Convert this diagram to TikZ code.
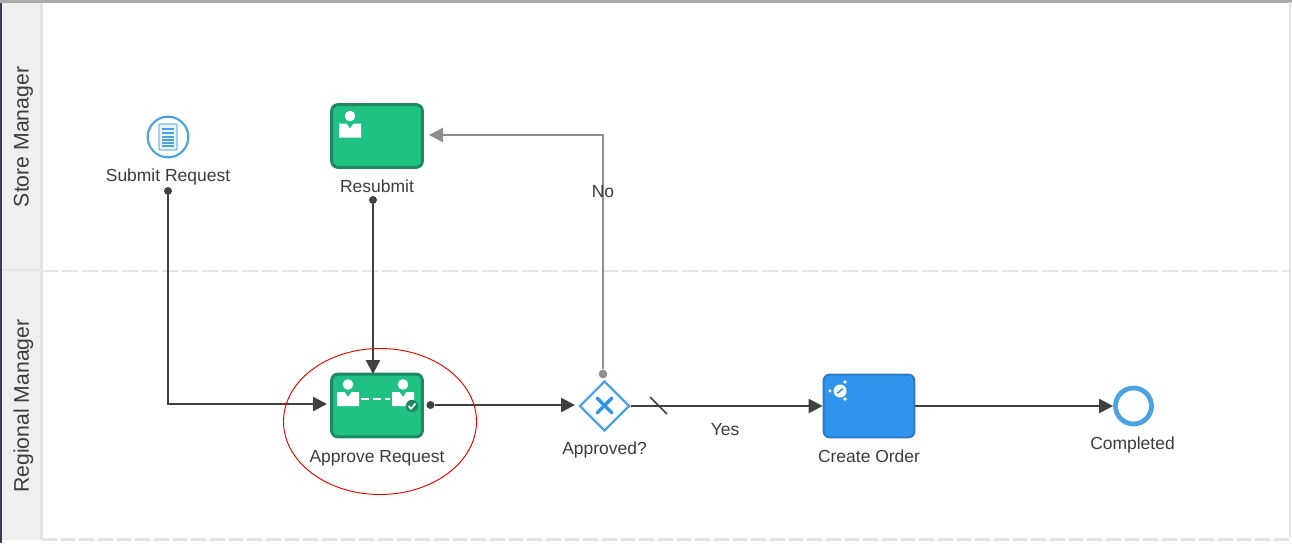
\documentclass[tikz,border=0pt]{standalone}
\usepackage{fontspec}
\setmainfont{Liberation Sans}
\usetikzlibrary{arrows.meta,shapes.geometric}
\definecolor{taskgreen}{HTML}{20C283}
\definecolor{taskgreenedge}{HTML}{1F8A62}
\definecolor{taskblue}{HTML}{2F94EC}
\definecolor{taskblueedge}{HTML}{2A7CC8}
\definecolor{evblue}{HTML}{4BA3E3}
\definecolor{flowdark}{HTML}{404040}
\definecolor{flowgrey}{HTML}{8E8E8E}
\definecolor{lanefill}{HTML}{EFEFEF}
\definecolor{laneline}{HTML}{E4E4E4}
\definecolor{laneband}{HTML}{3A3F55}
\definecolor{txt}{HTML}{3C3C3C}
\tikzset{
  x=0.75pt,y=-0.75pt,
  task/.style={draw,line width=2.2pt,rounded corners=4.5pt,minimum width=68pt,minimum height=47pt,inner sep=0pt},
  greentask/.style={task,fill=taskgreen,draw=taskgreenedge},
  bluetask/.style={task,fill=taskblue,draw=taskblueedge,line width=1.6pt},
  lbl/.style={font=\fontsize{13.1pt}{15pt}\selectfont,text=txt,inner sep=0pt},
  lanelbl/.style={font=\fontsize{15.9pt}{18pt}\selectfont,text=txt,inner sep=0pt,rotate=90},
  flow/.style={draw=flowdark,line width=1.8pt,-{Triangle[length=10.5pt,width=10.5pt]}},
  greyflow/.style={draw=flowgrey,line width=1.8pt,-{Triangle[length=10.5pt,width=10.5pt]}},
  dotd/.style={circle,fill=flowdark,inner sep=0pt,minimum size=6pt},
  dotg/.style={circle,fill=flowgrey,inner sep=0pt,minimum size=6.5pt},
  lanedash/.style={draw=laneline,line width=1.8pt,dash pattern=on 12pt off 3pt},
}
\newcommand{\usericon}[2]{%
  \fill[white] (#1,#2-9.5) circle[radius=5.3];
  \fill[white] (#1-11,#2-2) -- (#1-3.5,#2-2) -- (#1,#2+3) -- (#1+3.5,#2-2) -- (#1+11,#2-2)
     -- (#1+11,#2+12) -- (#1-11,#2+12) -- cycle;}
\begin{document}
\begin{tikzpicture}
\useasboundingbox (0,0) rectangle (1292,543);
% lanes
\fill[white] (0,0) rectangle (1292,543);
\fill[lanefill] (2,2) rectangle (41,540);
\fill[laneline] (40,2) rectangle (43,540);
\fill[laneband] (0,0) rectangle (2,543);
\fill[black!33] (0,0) rectangle (1292,2.5);
\fill[laneline] (1289,2) rectangle (1291,537);
\draw[laneline,line width=1.8pt] (2,270) -- (42,270);
\draw[lanedash] (42,271) -- (1290,271);
\draw[draw=laneline,line width=2pt,dash pattern=on 11pt off 3pt] (42,539.5) -- (1290,539.5);
\node[lanelbl] (laneS) at (23.5,137) {Store Manager};
\node[lanelbl] (laneR) at (23.5,406) {Regional Manager};

% nodes
\node[circle,draw=evblue,line width=1.6pt,fill=white,minimum size=30.5pt,inner sep=0pt] (submit) at (168,137) {};
\node[lbl] (submitL) at (168,176.5) {Submit Request};
\node[greentask] (resubmit) at (377,136) {};
\node[lbl] (resubmitL) at (377,186) {Resubmit};
\node[greentask] (approve) at (377,405.5) {};
\node[lbl] (approveL) at (377,458) {Approve Request};
\node[diamond,aspect=1,draw=evblue,line width=1.8pt,fill=white,minimum width=37.5pt,minimum height=37.5pt,inner sep=0pt] (gate) at (604.5,406) {};
\node[lbl] (gateL) at (604.5,450) {Approved?};
\node[bluetask] (order) at (869,406) {};
\node[lbl] (orderL) at (869,456) {Create Order};
\node[circle,draw=evblue,line width=3.6pt,fill=white,minimum size=27pt,inner sep=0pt] (endev) at (1133.5,406) {};
\node[lbl] (endL) at (1132.5,445) {Completed};
\node[lbl] (yesL) at (725,430) {Yes};

% dots
\node[dotd] (d1) at (168,191) {};
\node[dotd] (d2) at (373,200) {};
\node[dotd] (d3) at (430.5,405) {};
\node[dotg] (d4) at (603,374) {};
\coordinate (approveIn) at (327,404);
\coordinate (approveTop) at (373,374);
\coordinate (gateIn) at (575,405);
\coordinate (resubIn) at (429,135);

% connectors
\draw[flow] (d1) |- (approveIn);
\draw[flow] (d2) -- (approveTop);
\draw[flow] (d3) -- (gateIn);
\draw[flow] (gate.east) -- (order.west);
\draw[flow] (order.east) -- (endev.west);
\draw[greyflow] (d4) |- (resubIn);
\node[lbl] (noL) at (603,192) {No};
\draw[draw=flowdark,line width=1.3pt] (650,397) -- (667,414);

% submit icon
\fill[evblue!12,draw=evblue!75,line width=0.8pt,rounded corners=0.6pt] (159,124) rectangle (177,150);
\foreach \yy in {129,133,137,140,143,146}{\draw[evblue,line width=0.8pt] (162,\yy) -- (174,\yy);}

% user icons
\usericon{350}{125.5}
\usericon{348}{394}
\usericon{403}{394}
\draw[white,line width=1.7pt,dash pattern=on 6pt off 3pt] (361,399) -- (390,399);
\fill[taskgreenedge] (412,406) circle[radius=6.2];
\draw[white,line width=1.2pt] (408.5,406) -- (411,408.8) -- (415.5,403.5);

% gate X
\draw[taskblue,line width=2.6pt,line cap=round] (597,398) -- (612,413);
\draw[taskblue,line width=2.6pt,line cap=round] (612,398) -- (597,413);

% service icon
\fill[white] (840,391) circle[radius=6.5];
\draw[taskblue,line width=1.2pt] (837,393) .. controls (839,393) and (841,389) .. (843,389);
\fill[white] (845,382) circle[radius=1.8];
\fill[white] (830,391) circle[radius=1.6];
\fill[white] (845,399) circle[radius=1.8];

% highlight ellipse
\draw[red!90!black,line width=0.7pt] (380,421.5) ellipse[x radius=96.5,y radius=73];
\end{tikzpicture}
\end{document}
